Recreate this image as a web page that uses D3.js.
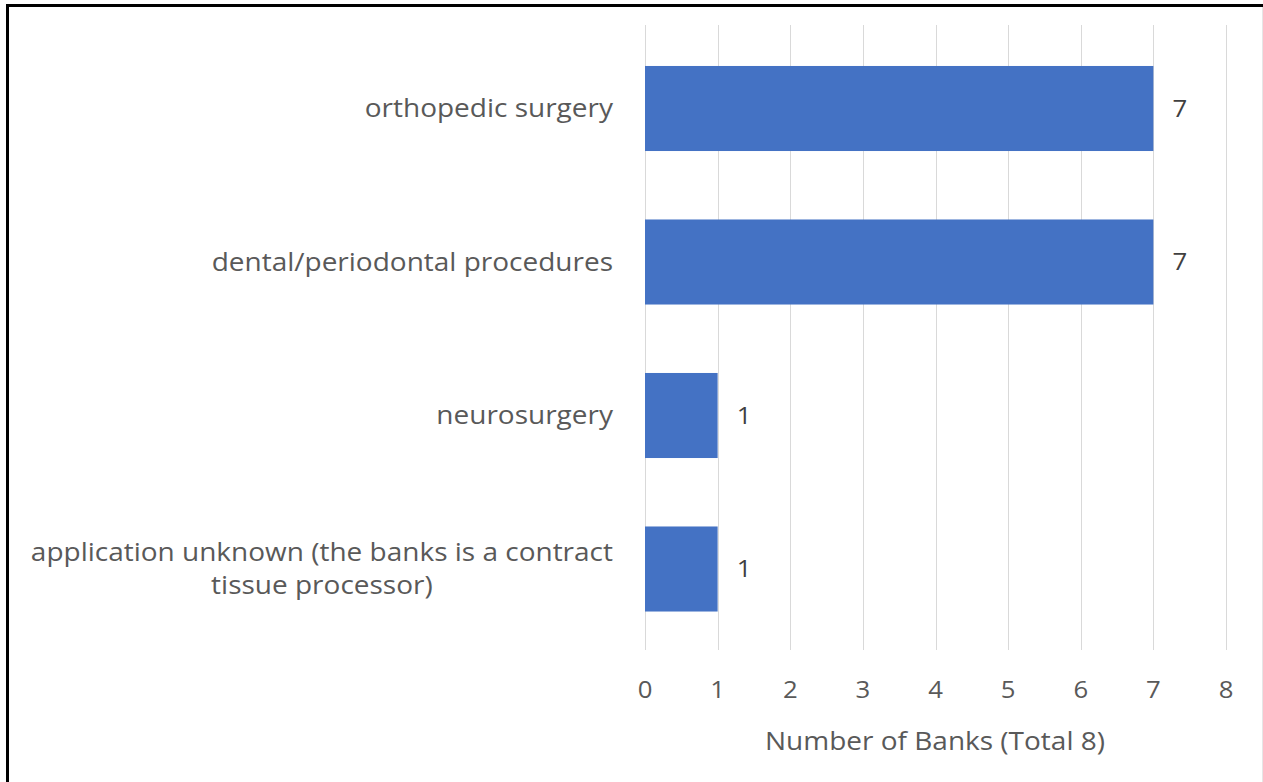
<!DOCTYPE html>
<html><head><meta charset="utf-8">
<script src="https://cdn.jsdelivr.net/npm/d3@7"></script>
<style>
html,body{margin:0;padding:0;background:#fff;}
svg{display:block;}
</style></head>
<body>
<svg id="chart" width="1263" height="782"></svg>
<script>
const categories = ["orthopedic surgery", "dental/periodontal procedures", "neurosurgery", "application unknown (the banks is a contract tissue processor)"];
const categoryLines = [["orthopedic surgery"], ["dental/periodontal procedures"], ["neurosurgery"], ["application unknown (the banks is a contract", "tissue processor)"]];
const values = [7, 7, 1, 1];
const xTicks = [0, 1, 2, 3, 4, 5, 6, 7, 8];
const xTitle = "Number of Banks (Total 8)";

const svg = d3.select("#chart");
const font = "'Open Sans', sans-serif";
const textColor = "#595959";
const sx = 1.12; // horizontal stretch of the source image's text

svg.append("rect").attr("x",0).attr("y",0).attr("width",1263).attr("height",782).attr("fill","#fff");
svg.append("line").attr("x1",7.5).attr("x2",1263).attr("y1",5.5).attr("y2",5.5).attr("stroke","#000").attr("stroke-width",3);
svg.append("line").attr("x1",7.5).attr("x2",7.5).attr("y1",4).attr("y2",782).attr("stroke","#000").attr("stroke-width",3);
svg.append("line").attr("x1",1262.5).attr("x2",1262.5).attr("y1",7).attr("y2",782).attr("stroke","#e6e6e6").attr("stroke-width",1);

const x = d3.scaleLinear().domain([0, 8]).range([645, 1226]);
const y = d3.scaleBand().domain(categories).range([31.75, 645.75]).paddingInner(0.446).paddingOuter(0.223);

function stretched(parent, px, py, anchor, size, color, str) {
  const g = parent.append("g").attr("transform", `translate(${px},${py}) scale(${sx},1)`);
  return g.append("text").attr("x", 0).attr("y", 0).attr("dy", "0.35em")
    .attr("text-anchor", anchor).attr("font-family", font).attr("font-size", size)
    .attr("fill", color).text(str);
}

svg.append("g").selectAll("line").data(xTicks).join("line")
  .attr("x1", d => Math.round(x(d)) + 0.5).attr("x2", d => Math.round(x(d)) + 0.5)
  .attr("y1", 25).attr("y2", 650)
  .attr("stroke", "#d9d9d9").attr("stroke-width", 1);

svg.append("g").selectAll("rect").data(categories).join("rect")
  .attr("x", x(0)).attr("y", d => y(d))
  .attr("width", (d,i) => x(values[i]) - x(0))
  .attr("height", y.bandwidth())
  .attr("fill", "#4472c4");

const valG = svg.append("g");
categories.forEach((c, i) => {
  stretched(valG, x(values[i]) + 19, y(c) + y.bandwidth()/2, "start", 23, "#404040", values[i]);
});

const labG = svg.append("g");
categories.forEach((c, i) => {
  const lines = categoryLines[i];
  const cy = y(c) + y.bandwidth()/2;
  const lh = 33;
  const texts = lines.map((ln, j) => stretched(labG, 0, cy + (j - (lines.length-1)/2) * lh, "middle", 25, textColor, ln));
  const maxW = d3.max(texts, t => t.node().getComputedTextLength()) * sx;
  const cx = 613 - maxW/2;
  texts.forEach((t, j) => {
    d3.select(t.node().parentNode).attr("transform", `translate(${cx},${cy + (j - (lines.length-1)/2) * lh}) scale(${sx},1)`);
  });
});

const tickG = svg.append("g");
xTicks.forEach(d => stretched(tickG, x(d), 690, "middle", 23, textColor, d));

stretched(svg, 935, 741, "middle", 25, textColor, xTitle);
</script>
</body></html>
